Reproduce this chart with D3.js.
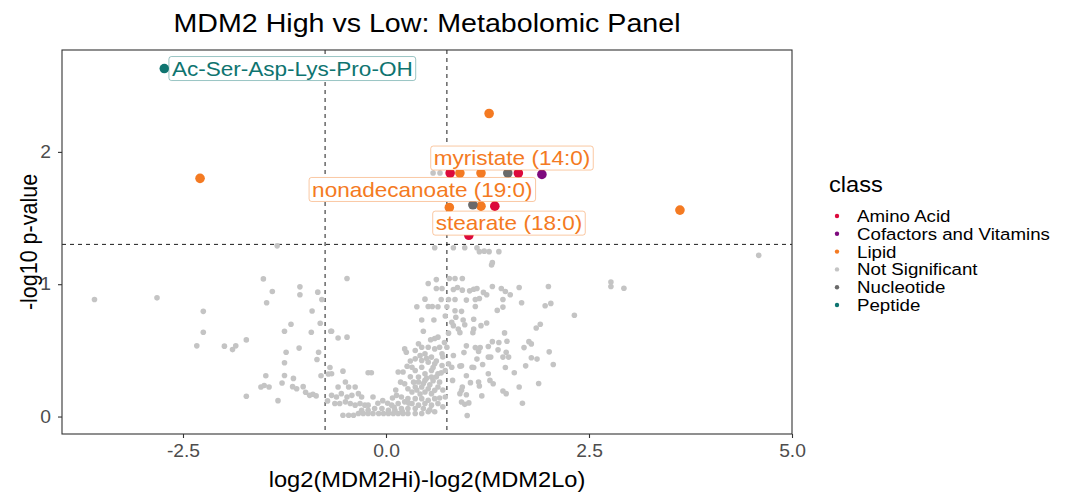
<!DOCTYPE html>
<html>
<head>
<meta charset="utf-8">
<script src="https://cdn.jsdelivr.net/npm/d3@7"></script>
<style>
  body { margin: 0; background: #fff; }
  text { font-family: "Liberation Sans", Arial, sans-serif; }
</style>
</head>
<body>
<div id="chart"></div>
<script>
// legend classes and colours
const classes = ["Amino Acid", "Cofactors and Vitamins", "Lipid", "Not Significant", "Nucleotide", "Peptide"];
const classColors = ["#DC0A3C", "#7E0A7E", "#F47A22", "#C4C4C4", "#6A6A6A", "#0E7470"];

// significant metabolites: [class, log2FC, -log10 p, label]
const sigPoints = [
  ["Lipid", -2.29, 1.80, null],
  ["Lipid", 1.27, 2.29, null],
  ["Lipid", 0.91, 1.84, null],
  ["Lipid", 1.17, 1.84, "myristate (14:0)"],
  ["Lipid", 1.17, 1.59, "stearate (18:0)"],
  ["Lipid", 0.78, 1.58, "nonadecanoate (19:0)"],
  ["Lipid", 3.62, 1.56, null],
  ["Nucleotide", 1.50, 1.84, null],
  ["Nucleotide", 1.07, 1.60, null],
  ["Amino Acid", 0.79, 1.84, null],
  ["Amino Acid", 1.63, 1.84, null],
  ["Amino Acid", 1.34, 1.59, null],
  ["Amino Acid", 1.02, 1.37, null],
  ["Cofactors and Vitamins", 1.92, 1.83, null],
  ["Peptide", -2.73, 2.63, "Ac-Ser-Asp-Lys-Pro-OH"]
];

// not significant metabolites: [log2FC, -log10 p]
const notSig = [
  [0.58, 1.84], [0.665, 1.84],
  // left side
  [-1.34, 1.29], [-3.59, 0.885], [-2.82, 0.897], [-1.51, 1.04], [-1.40, 0.945], [-1.47, 0.86],
  [-1.06, 0.98], [-1.06, 0.92], [-0.84, 0.94], [-0.79, 0.885], [-2.25, 0.795], [-2.25, 0.637],
  [-0.91, 0.797], [-1.17, 0.697], [-1.25, 0.644], [-0.92, 0.637], [-0.81, 0.705], [-0.68, 0.644],
  [-2.33, 0.534], [-1.99, 0.532], [-1.89, 0.506], [-1.85, 0.534], [-1.72, 0.579], [-1.23, 0.486],
  [-1.07, 0.517], [-0.83, 0.486], [-0.85, 0.431], [-1.25, 0.406], [-0.69, 0.371], [-1.48, 0.308],
  [-1.25, 0.31], [-1.14, 0.288], [-0.80, 0.308], [-0.71, 0.321], [-1.54, 0.223], [-1.50, 0.235],
  [-1.44, 0.223], [-1.28, 0.253], [-1.15, 0.226], [-1.10, 0.21], [-1.02, 0.226], [-0.99, 0.183],
  [-0.94, 0.16], [-0.90, 0.168], [-0.86, 0.156], [-1.72, 0.153], [-1.33, 0.12], [-0.72, 0.118],
  // right side
  [0.97, 1.276], [1.12, 1.276], [1.15, 1.246], [1.21, 1.25], [1.27, 1.246], [1.39, 1.246],
  [4.59, 1.218], [1.31, 1.163], [1.30, 1.145], [0.94, 1.043], [0.94, 0.955], [1.03, 0.95],
  [1.08, 0.962], [1.12, 0.968], [1.20, 0.938], [1.24, 0.92], [1.31, 0.983], [1.42, 0.968],
  [1.47, 0.945], [1.53, 0.92], [1.64, 0.975], [2.00, 0.983], [2.77, 1.017], [2.77, 0.983],
  [2.93, 0.97], [0.99, 0.88], [1.10, 0.885], [1.15, 0.892], [1.44, 0.885], [1.67, 0.86],
  [2.03, 0.855], [1.96, 0.837], [1.10, 0.832], [1.44, 0.827], [1.37, 0.802], [0.93, 0.795],
  [2.32, 0.765], [0.95, 0.729], [1.08, 0.735], [0.97, 0.694], [1.17, 0.687], [1.24, 0.707],
  [1.08, 0.662], [1.07, 0.634], [1.46, 0.632], [1.90, 0.697], [1.85, 0.669], [0.91, 0.634],
  [0.99, 0.534], [1.10, 0.521], [1.16, 0.521], [1.26, 0.529], [1.31, 0.566], [1.39, 0.559],
  [1.49, 0.569], [1.76, 0.566], [1.79, 0.549], [1.70, 0.521], [1.38, 0.504], [1.48, 0.486],
  [1.14, 0.491], [0.96, 0.483], [2.01, 0.489], [1.26, 0.449], [1.29, 0.449], [1.44, 0.449],
  [1.51, 0.449], [1.79, 0.444], [1.86, 0.434], [1.12, 0.434], [2.06, 0.393], [1.72, 0.383],
  [1.19, 0.393], [0.93, 0.383], [1.06, 0.373], [1.08, 0.371], [1.47, 0.371], [1.58, 0.331],
  [1.26, 0.323], [0.99, 0.308], [1.88, 0.25], [1.64, 0.223], [1.28, 0.273], [1.32, 0.248],
  [1.04, 0.256], [1.14, 0.261], [1.15, 0.231], [0.94, 0.223], [1.44, 0.193], [1.48, 0.173],
  [1.18, 0.156], [0.99, 0.165], [0.93, 0.11], [0.97, 0.092], [1.02, 0.103], [1.68, 0.10],
  [1.00, 0.008],
  // centre, upper
  [0.60, 1.276], [0.83, 1.276], [-0.48, 1.043], [0.52, 1.005], [0.62, 1.035], [0.62, 0.968],
  [0.69, 0.968], [0.78, 1.043], [0.85, 1.043], [0.83, 0.96], [0.88, 0.975], [0.48, 0.887],
  [0.68, 0.885], [0.77, 0.885], [0.85, 0.885], [0.38, 0.83], [0.52, 0.832], [0.57, 0.832],
  [0.64, 0.83], [0.75, 0.83], [0.85, 0.80], [0.73, 0.76], [0.86, 0.75], [0.44, 0.73],
  [0.59, 0.73], [0.81, 0.712], [-0.67, 0.644], [0.46, 0.644], [0.83, 0.687], [0.89, 0.662],
  [0.77, 0.63], [-0.59, 0.594], [-0.48, 0.60], [0.60, 0.59],
  // centre, lower
  [0.23, 0.511], [0.25, 0.486], [0.36, 0.499], [0.44, 0.524], [0.52, 0.524], [0.60, 0.511],
  [0.66, 0.524], [0.75, 0.524], [0.83, 0.461], [0.48, 0.474], [0.56, 0.449], [0.69, 0.474],
  [0.36, 0.436], [0.44, 0.424], [0.52, 0.411], [0.60, 0.398], [0.69, 0.386], [0.77, 0.398],
  [-0.67, 0.323], [-0.53, 0.343], [-0.22, 0.331], [-0.18, 0.331], [0.15, 0.336], [0.21, 0.336],
  [0.32, 0.373], [0.36, 0.348], [0.44, 0.373], [0.48, 0.323], [0.56, 0.348], [0.64, 0.323],
  [0.73, 0.348], [0.81, 0.373], [0.91, 0.381], [0.82, 0.273],
  [-0.50, 0.261], [-0.59, 0.223], [-0.46, 0.223], [-0.38, 0.223], [-0.67, 0.16], [-0.61, 0.148],
  [-0.55, 0.173], [-0.48, 0.148], [-0.42, 0.16], [-0.34, 0.173], [-0.30, 0.148], [-0.16, 0.148],
  [-0.63, 0.098], [-0.57, 0.098], [-0.50, 0.111], [-0.44, 0.098], [-0.38, 0.086], [-0.32, 0.098],
  [-0.26, 0.086], [-0.22, 0.086],
  [-0.53, 0.01], [-0.46, 0.01], [-0.40, 0.01], [-0.34, 0.023], [-0.28, 0.023], [-0.22, 0.023],
  [-0.16, 0.023], [-0.09, 0.023], [-0.03, 0.023], [0.03, 0.023], [0.09, 0.023], [0.15, 0.023],
  [0.21, 0.023], [0.27, 0.023], [-0.30, 0.048], [-0.22, 0.048], [-0.14, 0.061], [-0.05, 0.061],
  [0.03, 0.048], [0.11, 0.048], [0.19, 0.061], [0.27, 0.061], [0.36, 0.061], [0.07, 0.086],
  [0.15, 0.098], [0.23, 0.111], [0.32, 0.098], [0.40, 0.086], [0.48, 0.098], [0.56, 0.086],
  [0.64, 0.098], [0.23, 0.248], [0.27, 0.21], [0.32, 0.185], [0.36, 0.223], [0.40, 0.261],
  [0.44, 0.223], [0.48, 0.185], [0.52, 0.21], [0.56, 0.173], [0.60, 0.198], [0.64, 0.223],
  [0.48, 0.273], [0.56, 0.298], [0.40, 0.298], [0.13, 0.16], [0.19, 0.148], [0.27, 0.135],
  [0.36, 0.135], [0.44, 0.135], [0.52, 0.123], [0.60, 0.135], [0.70, 0.073], [0.73, 0.148],
  [0.36, 0.023], [0.44, 0.023], [0.52, 0.036], [0.60, 0.036], [0.93, 0.198], [0.91, 0.173],
  // centre blob, extra
  [0.30, 0.30], [0.34, 0.26], [0.38, 0.20], [0.42, 0.17], [0.46, 0.25], [0.50, 0.29],
  [0.54, 0.24], [0.58, 0.27], [0.62, 0.30], [0.66, 0.26], [0.70, 0.20], [0.68, 0.33],
  [0.62, 0.42], [0.58, 0.37], [0.50, 0.44], [0.42, 0.46], [0.30, 0.42], [0.26, 0.38],
  [0.18, 0.26], [0.12, 0.20], [0.08, 0.14], [0.02, 0.10], [-0.04, 0.12], [-0.10, 0.10],
  [0.10, 0.07], [0.20, 0.04], [0.28, 0.10], [0.46, 0.06], [0.54, 0.05], [0.66, 0.14],
  [0.70, 0.45], [0.72, 0.56], [0.64, 0.60], [0.55, 0.58], [0.40, 0.55]
];

const xTicks = [-2.5, 0, 2.5, 5];
const yTicks = [0, 1, 2];
const fcCut = 0.75;
const pCut = -Math.log10(0.05);

const width = 1080, height = 504;
const margin = { left: 62, right: 288, top: 50, bottom: 70 };
const stretch = 1.1; // the reference type is a little wider than Liberation Sans

const svg = d3.select("#chart").append("svg")
  .attr("width", width)
  .attr("height", height);

const x = d3.scaleLinear().domain([-3.99, 5.0]).range([margin.left, width - margin.right]);
const y = d3.scaleLinear().domain([-0.132, 2.77]).range([height - margin.bottom, margin.top]);
const color = d3.scaleOrdinal().domain(classes).range(classColors);

// text placed at (px, py), widened horizontally
function wideText(parent, px, py, str, size) {
  return parent.append("text")
    .attr("transform", `translate(${px},${py}) scale(${stretch},1)`)
    .attr("font-size", size)
    .text(str);
}

// axes
const xAxis = svg.append("g")
  .attr("transform", `translate(0,${height - margin.bottom})`)
  .call(d3.axisBottom(x).tickValues(xTicks).tickFormat(d3.format(".1f")).tickSize(4).tickPadding(7));
const yAxis = svg.append("g")
  .attr("transform", `translate(${margin.left},0)`)
  .call(d3.axisLeft(y).tickValues(yTicks).tickFormat(d3.format("d")).tickSize(4).tickPadding(6));
[xAxis, yAxis].forEach(a => {
  a.select(".domain").remove();
  a.selectAll(".tick line").attr("stroke", "#333").attr("stroke-width", 1.1);
  a.selectAll(".tick text").attr("fill", "#4d4d4d").attr("font-size", 17.5)
    .attr("transform", `scale(${stretch},1)`)
    .style("font-family", "'Liberation Sans', Arial, sans-serif");
});
xAxis.selectAll(".tick text").text(d => d3.format(".1f")(d).replace("−", "-"));
yAxis.selectAll(".tick text").text(d => String(d));

// threshold lines
const refs = svg.append("g").attr("stroke", "#000").attr("stroke-width", 0.9).attr("stroke-dasharray", "4,4");
[-fcCut, fcCut].forEach(v => refs.append("line")
  .attr("x1", x(v)).attr("x2", x(v)).attr("y1", margin.top).attr("y2", height - margin.bottom));
refs.append("line")
  .attr("x1", margin.left).attr("x2", width - margin.right).attr("y1", y(pCut)).attr("y2", y(pCut));

// points
svg.append("g").selectAll("circle")
  .data(notSig)
  .enter().append("circle")
  .attr("cx", d => x(d[0]))
  .attr("cy", d => y(d[1]))
  .attr("r", 2.8)
  .attr("fill", color("Not Significant"));

svg.append("g").selectAll("circle")
  .data(sigPoints)
  .enter().append("circle")
  .attr("cx", d => x(d[1]))
  .attr("cy", d => y(d[2]))
  .attr("r", 4.8)
  .attr("fill", d => color(d[0]));

// repelled labels (offsets in px from the point)
const nudge = {
  "myristate (14:0)": [31, -15],
  "stearate (18:0)": [28, 17],
  "nonadecanoate (19:0)": [-27, -18],
  "Ac-Ser-Asp-Lys-Pro-OH": [128, 0]
};
const labelG = svg.append("g");
sigPoints.filter(d => d[3]).forEach(d => {
  const c = color(d[0]);
  const cx = x(d[1]) + nudge[d[3]][0], cy = y(d[2]) + nudge[d[3]][1];
  const g = labelG.append("g");
  const rect = g.append("rect");
  const t = wideText(g, cx, cy, d[3], 20.5)
    .attr("dy", "0.35em")
    .attr("text-anchor", "middle")
    .attr("fill", c);
  const w = t.node().getBBox().width * stretch;
  rect.attr("x", cx - w / 2 - 3).attr("y", cy - 12)
    .attr("width", w + 6).attr("height", 24)
    .attr("rx", 2.5)
    .attr("fill", "#fff")
    .attr("stroke", c)
    .attr("stroke-opacity", 0.6)
    .attr("stroke-width", 0.7);
});

// panel border
svg.append("rect")
  .attr("x", margin.left).attr("y", margin.top)
  .attr("width", width - margin.right - margin.left)
  .attr("height", height - margin.bottom - margin.top)
  .attr("fill", "none")
  .attr("stroke", "#333")
  .attr("stroke-width", 1.1);

// titles
const midX = (margin.left + width - margin.right) / 2;
wideText(svg, midX, 32, "MDM2 High vs Low: Metabolomic Panel", 26).attr("text-anchor", "middle");
wideText(svg, midX, 487, "log2(MDM2Hi)-log2(MDM2Lo)", 21.5).attr("text-anchor", "middle");
svg.append("text")
  .attr("transform", `translate(37,${(margin.top + height - margin.bottom) / 2}) rotate(-90) scale(1,${stretch})`)
  .attr("text-anchor", "middle").attr("font-size", 21.5)
  .text("-log10 p-value");

// legend
const legend = svg.append("g").attr("transform", "translate(829,0)");
wideText(legend, 0, 192, "class", 21.5);
const item = legend.selectAll("g.item")
  .data(classes)
  .enter().append("g")
  .attr("class", "item")
  .attr("transform", (d, i) => `translate(0,${216 + i * 17.8})`);
item.append("circle").attr("cx", 8).attr("cy", 0).attr("r", 2.2).attr("fill", d => color(d));
item.append("text")
  .attr("transform", `translate(28,0) scale(${stretch},1)`)
  .attr("dy", "0.35em").attr("font-size", 17)
  .text(d => d);
</script>
</body>
</html>
